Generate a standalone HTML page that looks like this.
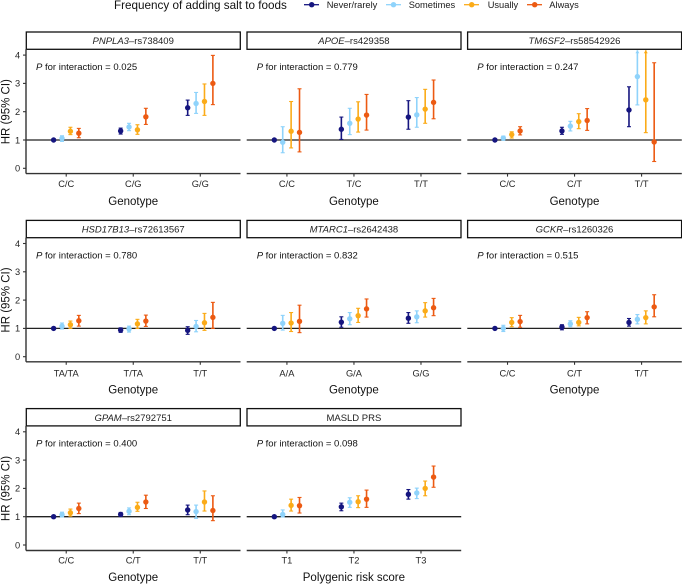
<!DOCTYPE html>
<html lang="en">
<head>
<meta charset="utf-8">
<title>Frequency of adding salt to foods by genotype</title>
<style>
  html, body { margin: 0; padding: 0; background: #fff; }
  svg { display: block; font-family: "Liberation Sans", Arial, sans-serif; }
  .tick { font-size: 9.3px; fill: #262626; }
  .leg { font-size: 9.3px; fill: #1a1a1a; }
  .axt { font-size: 11.5px; fill: #111; }
  .strip { fill: #fff; stroke: #111; stroke-width: 1.3; }
  .stxt { font-size: 9.5px; fill: #222; text-anchor: middle; }
  .ptxt { font-size: 9.5px; fill: #111; }
</style>
</head>
<body>
<svg id="chart" width="682" height="584" viewBox="0 0 682 584" xmlns="http://www.w3.org/2000/svg">
  <rect width="682" height="584" fill="#fff"/>

  <g>
    <text x="114" y="9" font-size="11.7" fill="#111">Frequency of adding salt to foods</text>
    <g>
      <line x1="304" x2="319" y1="4.7" y2="4.7" stroke="#15157f" stroke-width="1.3"/>
      <circle cx="311.7" cy="4.7" r="2.7" fill="#15157f"/>
      <text class="leg" x="326.7" y="8">Never/rarely</text>
    </g>
    <g>
      <line x1="386" x2="401" y1="4.7" y2="4.7" stroke="#8fd3fb" stroke-width="1.3"/>
      <circle cx="393.5" cy="4.7" r="2.7" fill="#8fd3fb"/>
      <text class="leg" x="408.7" y="8">Sometimes</text>
    </g>
    <g>
      <line x1="464" x2="479" y1="4.7" y2="4.7" stroke="#fbab18" stroke-width="1.3"/>
      <circle cx="471.7" cy="4.7" r="2.7" fill="#fbab18"/>
      <text class="leg" x="487.7" y="8">Usually</text>
    </g>
    <g>
      <line x1="527" x2="542" y1="4.7" y2="4.7" stroke="#ec5a12" stroke-width="1.3"/>
      <circle cx="534.7" cy="4.7" r="2.7" fill="#ec5a12"/>
      <text class="leg" x="549.3" y="8">Always</text>
    </g>
  </g>

  <g>
    <rect class="strip" x="26.3" y="32" width="214" height="17.3"/>
    <text class="stxt" x="133.2" y="44"><tspan font-style="italic">PNPLA3</tspan>–rs738409</text>
    <rect class="strip" x="247" y="32" width="214" height="17.3"/>
    <text class="stxt" x="353.9" y="44"><tspan font-style="italic">APOE</tspan>–rs429358</text>
    <rect class="strip" x="467.6" y="32" width="214" height="17.3"/>
    <text class="stxt" x="574.5" y="44"><tspan font-style="italic">TM6SF2</tspan>–rs58542926</text>

    <rect class="strip" x="26.3" y="220.4" width="214" height="17.3"/>
    <text class="stxt" x="133.2" y="232.4"><tspan font-style="italic">HSD17B13</tspan>–rs72613567</text>
    <rect class="strip" x="247" y="220.4" width="214" height="17.3"/>
    <text class="stxt" x="353.9" y="232.4"><tspan font-style="italic">MTARC1</tspan>–rs2642438</text>
    <rect class="strip" x="467.6" y="220.4" width="214" height="17.3"/>
    <text class="stxt" x="574.5" y="232.4"><tspan font-style="italic">GCKR</tspan>–rs1260326</text>

    <rect class="strip" x="26.3" y="408.6" width="214" height="17.3"/>
    <text class="stxt" x="133.2" y="420.8"><tspan font-style="italic">GPAM</tspan>–rs2792751</text>
    <rect class="strip" x="247" y="408.6" width="214" height="17.3"/>
    <text class="stxt" x="353.9" y="420.8">MASLD PRS</text>
  </g>

  <g>
    <text class="ptxt" x="36" y="70"><tspan font-style="italic">P</tspan> for interaction = 0.025</text>
    <text class="ptxt" x="256.7" y="70"><tspan font-style="italic">P</tspan> for interaction = 0.779</text>
    <text class="ptxt" x="477.3" y="70"><tspan font-style="italic">P</tspan> for interaction = 0.247</text>
    <text class="ptxt" x="36" y="258.4"><tspan font-style="italic">P</tspan> for interaction = 0.780</text>
    <text class="ptxt" x="256.7" y="258.4"><tspan font-style="italic">P</tspan> for interaction = 0.832</text>
    <text class="ptxt" x="477.3" y="258.4"><tspan font-style="italic">P</tspan> for interaction = 0.515</text>
    <text class="ptxt" x="36" y="446.7"><tspan font-style="italic">P</tspan> for interaction = 0.400</text>
    <text class="ptxt" x="256.7" y="446.7"><tspan font-style="italic">P</tspan> for interaction = 0.098</text>
  </g>

  <g>
    <text class="axt" transform="translate(9.6,111.7) rotate(-90)" text-anchor="middle">HR (95% CI)</text>
    <text class="axt" transform="translate(9.6,300) rotate(-90)" text-anchor="middle">HR (95% CI)</text>
    <text class="axt" transform="translate(9.6,488.5) rotate(-90)" text-anchor="middle">HR (95% CI)</text>
    <text class="axt" x="133.2" y="205" text-anchor="middle">Genotype</text>
    <text class="axt" x="353.9" y="205" text-anchor="middle">Genotype</text>
    <text class="axt" x="574.5" y="205" text-anchor="middle">Genotype</text>
    <text class="axt" x="133.2" y="393.3" text-anchor="middle">Genotype</text>
    <text class="axt" x="353.9" y="393.3" text-anchor="middle">Genotype</text>
    <text class="axt" x="574.5" y="393.3" text-anchor="middle">Genotype</text>
    <text class="axt" x="133.2" y="581" text-anchor="middle">Genotype</text>
    <text class="axt" x="353.9" y="581" text-anchor="middle">Polygenic risk score</text>
  </g>

  <g id="plots"></g>
</svg>

<script>
// Shared axis and series values
const yTickValues = [0, 1, 2, 3, 4];
const referenceHr = 1;
const axisMaxHr = 4.17;
const seriesNames = ['never-rarely', 'sometimes', 'usually', 'always'];

// Each HR / lower / upper array: one row per category, one value per series
const pnpla3Categories = ['C/C', 'C/G', 'G/G'];
const pnpla3Hr = [[1, 1.06, 1.31, 1.24], [1.32, 1.46, 1.36, 1.82], [2.14, 2.29, 2.36, 3.0]];
const pnpla3Lower = [[1, 0.95, 1.19, 1.08], [1.21, 1.33, 1.2, 1.55], [1.87, 1.94, 1.87, 2.25]];
const pnpla3Upper = [[1, 1.15, 1.45, 1.41], [1.42, 1.59, 1.54, 2.12], [2.41, 2.68, 2.98, 3.99]];

const apoeCategories = ['C/C', 'T/C', 'T/T'];
const apoeHr = [[1, 0.92, 1.31, 1.27], [1.38, 1.59, 1.74, 1.88], [1.81, 1.89, 2.09, 2.33]];
const apoeLower = [[1, 0.55, 0.72, 0.58], [1.02, 1.19, 1.28, 1.35], [1.38, 1.45, 1.59, 1.75]];
const apoeUpper = [[1, 1.47, 2.36, 2.81], [1.81, 2.12, 2.35, 2.61], [2.39, 2.5, 2.79, 3.12]];

const tm6sf2Categories = ['C/C', 'C/T', 'T/T'];
const tm6sf2Hr = [[1, 1.07, 1.19, 1.32], [1.32, 1.49, 1.65, 1.69], [2.06, 3.24, 2.42, 0.93]];
const tm6sf2Lower = [[1, 0.99, 1.07, 1.18], [1.2, 1.32, 1.4, 1.34], [1.47, 2.24, 1.26, 0.24]];
const tm6sf2Upper = [[1, 1.14, 1.29, 1.47], [1.45, 1.66, 1.93, 2.11], [2.88, 4.7, 4.6, 3.73]];

const hsd17b13Categories = ['TA/TA', 'T/TA', 'T/T'];
const hsd17b13Hr = [[1, 1.08, 1.13, 1.27], [0.94, 0.98, 1.16, 1.26], [0.93, 1.07, 1.2, 1.39]];
const hsd17b13Lower = [[1, 0.98, 1.0, 1.08], [0.86, 0.87, 1.0, 1.07], [0.79, 0.88, 0.93, 1.0]];
const hsd17b13Upper = [[1, 1.19, 1.26, 1.46], [1.02, 1.08, 1.32, 1.47], [1.06, 1.28, 1.53, 1.92]];

const mtarc1Categories = ['A/A', 'G/A', 'G/G'];
const mtarc1Hr = [[1, 1.18, 1.19, 1.25], [1.22, 1.34, 1.45, 1.69], [1.36, 1.41, 1.62, 1.73]];
const mtarc1Lower = [[1, 0.94, 0.89, 0.85], [1.04, 1.13, 1.21, 1.4], [1.18, 1.2, 1.4, 1.45]];
const mtarc1Upper = [[1, 1.46, 1.56, 1.82], [1.41, 1.56, 1.71, 2.04], [1.56, 1.62, 1.91, 2.06]];

const gckrCategories = ['C/C', 'C/T', 'T/T'];
const gckrHr = [[1, 1.0, 1.21, 1.24], [1.05, 1.16, 1.21, 1.38], [1.21, 1.32, 1.38, 1.76]];
const gckrLower = [[1, 0.89, 1.06, 1.04], [0.95, 1.06, 1.09, 1.16], [1.08, 1.16, 1.16, 1.41]];
const gckrUpper = [[1, 1.11, 1.38, 1.46], [1.13, 1.27, 1.39, 1.59], [1.35, 1.49, 1.62, 2.19]];

const gpamCategories = ['C/C', 'C/T', 'T/T'];
const gpamHr = [[1, 1.07, 1.14, 1.29], [1.08, 1.19, 1.33, 1.52], [1.24, 1.18, 1.52, 1.22]];
const gpamLower = [[1, 0.99, 1.02, 1.11], [1.01, 1.07, 1.19, 1.29], [1.07, 0.94, 1.2, 0.86]];
const gpamUpper = [[1, 1.16, 1.27, 1.48], [1.15, 1.31, 1.51, 1.76], [1.41, 1.41, 1.91, 1.74]];

const prsCategories = ['T1', 'T2', 'T3'];
const prsHr = [[1, 1.08, 1.4, 1.39], [1.35, 1.51, 1.53, 1.62], [1.79, 1.84, 2.0, 2.4]];
const prsLower = [[1, 0.99, 1.2, 1.13], [1.21, 1.33, 1.32, 1.33], [1.62, 1.64, 1.74, 2.04]];
const prsUpper = [[1, 1.24, 1.62, 1.68], [1.48, 1.67, 1.74, 1.94], [1.96, 2.01, 2.26, 2.79]];

// Layout (not data)
const SERIES_COLORS = ['#15157f', '#8fd3fb', '#fbab18', '#ec5a12'];
const COLUMN_LEFT = [26, 246.7, 467.3];
const PANEL_WIDTH = 214.5;
const ROW_ZERO_Y = [168.3, 356.7, 545];
const ROW_AXIS_Y = [173.6, 361.8, 550.5];
const ROW_TOP_Y = [49.3, 237.7, 425.9];
const ROW_LABEL_Y = [187.2, 376.6, 563.5];
const UNIT_PX = 28.3;
const DODGE = [-12.6, -4.2, 4.2, 12.6];

const panelDefs = [
  { key: 'pnpla3', col: 0, row: 0, categories: pnpla3Categories, hr: pnpla3Hr, lower: pnpla3Lower, upper: pnpla3Upper },
  { key: 'apoe', col: 1, row: 0, categories: apoeCategories, hr: apoeHr, lower: apoeLower, upper: apoeUpper },
  { key: 'tm6sf2', col: 2, row: 0, categories: tm6sf2Categories, hr: tm6sf2Hr, lower: tm6sf2Lower, upper: tm6sf2Upper },
  { key: 'hsd17b13', col: 0, row: 1, categories: hsd17b13Categories, hr: hsd17b13Hr, lower: hsd17b13Lower, upper: hsd17b13Upper },
  { key: 'mtarc1', col: 1, row: 1, categories: mtarc1Categories, hr: mtarc1Hr, lower: mtarc1Lower, upper: mtarc1Upper },
  { key: 'gckr', col: 2, row: 1, categories: gckrCategories, hr: gckrHr, lower: gckrLower, upper: gckrUpper },
  { key: 'gpam', col: 0, row: 2, categories: gpamCategories, hr: gpamHr, lower: gpamLower, upper: gpamUpper },
  { key: 'masld-prs', col: 1, row: 2, categories: prsCategories, hr: prsHr, lower: prsLower, upper: prsUpper }
];

const NS = 'http://www.w3.org/2000/svg';
const plots = document.getElementById('plots');

function make(tag, attrs, parent) {
  const el = document.createElementNS(NS, tag);
  for (const k in attrs) el.setAttribute(k, attrs[k]);
  parent.appendChild(el);
  return el;
}

function xScale(col, categoryIndex) {
  const step = PANEL_WIDTH / 3.2;
  return COLUMN_LEFT[col] + (categoryIndex + 0.6) * step;
}

function yScale(row, value) {
  return ROW_ZERO_Y[row] - value * UNIT_PX;
}

panelDefs.forEach(function (p) {
  const left = COLUMN_LEFT[p.col];
  const right = left + PANEL_WIDTH;
  const g = make('g', {}, plots);
  
  

  // Reference line
  const ref = make('line', { x1: left, x2: right, y1: yScale(p.row, referenceHr), y2: yScale(p.row, referenceHr), stroke: '#222', 'stroke-width': 1.3 }, g);
  
  

  // X axis
  const xAxis = make('line', { x1: left, x2: right, y1: ROW_AXIS_Y[p.row], y2: ROW_AXIS_Y[p.row], stroke: '#333', 'stroke-width': 1.4 }, g);
  
  

  p.categories.forEach(function (cat, ci) {
    const cx = xScale(p.col, ci);
    const tick = make('line', { x1: cx, x2: cx, y1: ROW_AXIS_Y[p.row], y2: ROW_AXIS_Y[p.row] + 3, stroke: '#333', 'stroke-width': 1.1 }, g);
    
    
    const label = make('text', { x: cx, y: ROW_LABEL_Y[p.row], 'text-anchor': 'middle', class: 'tick' }, g);
    label.textContent = cat;
    
    
  });

  // Y axis on the left column only
  if (p.col === 0) {
    const yAxis = make('line', { x1: left, x2: left, y1: ROW_TOP_Y[p.row], y2: ROW_AXIS_Y[p.row], stroke: '#333', 'stroke-width': 1.4 }, g);
    
    
    yTickValues.forEach(function (v) {
      const ty = yScale(p.row, v);
      const tick = make('line', { x1: left - 3, x2: left, y1: ty, y2: ty, stroke: '#333', 'stroke-width': 1.1 }, g);
      
      
      const label = make('text', { x: left - 5.8, y: ty + 3.3, 'text-anchor': 'end', class: 'tick' }, g);
      label.textContent = String(v);
      
      
    });
  }

  // Marks
  p.categories.forEach(function (cat, ci) {
    seriesNames.forEach(function (name, si) {
      const px = xScale(p.col, ci) + DODGE[si];
      const color = SERIES_COLORS[si];
      const hr = p.hr[ci][si];
      const lo = p.lower[ci][si];
      const hi = p.upper[ci][si];
      const clipped = hi > axisMaxHr;
      const yHi = yScale(p.row, Math.min(hi, axisMaxHr));
      const yLo = yScale(p.row, lo);

      const mark = make('g', {}, g);
      
      

      if (hi > lo) {
        make('line', { x1: px, x2: px, y1: yHi, y2: yLo, stroke: color, 'stroke-width': 1.6 }, mark);
        make('line', { x1: px - 2, x2: px + 2, y1: yLo, y2: yLo, stroke: color, 'stroke-width': 1.1 }, mark);
        if (clipped) {
          make('polygon', { points: (px - 2) + ',' + (yHi + 3) + ' ' + (px + 2) + ',' + (yHi + 3) + ' ' + px + ',' + yHi, fill: color }, mark);
        } else {
          make('line', { x1: px - 2, x2: px + 2, y1: yHi, y2: yHi, stroke: color, 'stroke-width': 1.1 }, mark);
        }
      }
      make('circle', { cx: px, cy: yScale(p.row, hr), r: 2.7, fill: color }, mark);
    });
  });
});
</script>
</body>
</html>
